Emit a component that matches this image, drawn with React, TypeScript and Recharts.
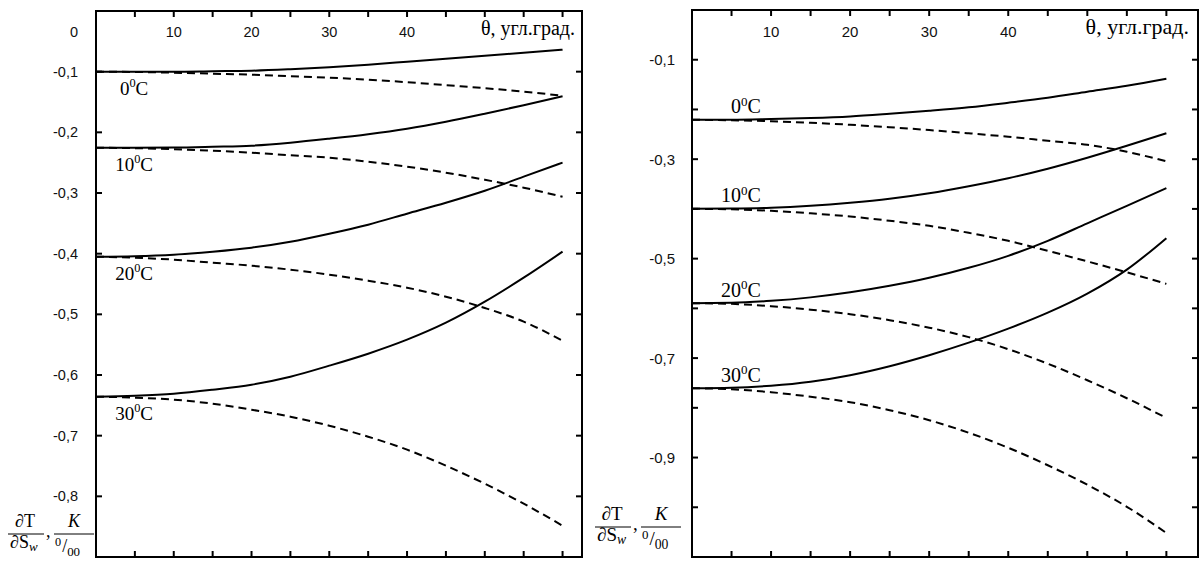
import React from 'react';
import { LineChart, Line, XAxis, YAxis, ReferenceArea, ReferenceDot } from 'recharts';

// ---------- data ----------
const theta = [0, 5, 10, 15, 20, 25, 30, 35, 40, 45, 50, 55, 60];

const leftSolid0 = [-0.1, -0.1, -0.1, -0.0992, -0.0984, -0.0959, -0.0926, -0.0885, -0.0836, -0.0786, -0.0737, -0.0687, -0.0638];
const leftDash0 = [-0.1, -0.1005, -0.1017, -0.1033, -0.105, -0.1075, -0.1099, -0.1132, -0.1174, -0.1223, -0.1272, -0.133, -0.1396];
const leftSolid10 = [-0.2253, -0.2253, -0.225, -0.2237, -0.222, -0.2171, -0.2105, -0.2031, -0.194, -0.1825, -0.1693, -0.1553, -0.1404];
const leftDash10 = [-0.2253, -0.2261, -0.2278, -0.2303, -0.2336, -0.2377, -0.2418, -0.2484, -0.2566, -0.2665, -0.2781, -0.2912, -0.3061];
const leftSolid20 = [-0.405, -0.4042, -0.4017, -0.3967, -0.3901, -0.3803, -0.3671, -0.3522, -0.3341, -0.316, -0.2962, -0.2731, -0.25];
const leftDash20 = [-0.405, -0.4066, -0.4099, -0.4149, -0.4198, -0.4264, -0.4346, -0.4445, -0.4561, -0.4709, -0.4895, -0.5121, -0.5434];
const leftSolid30 = [-0.6357, -0.6341, -0.6308, -0.6242, -0.616, -0.6028, -0.5846, -0.5649, -0.5418, -0.5138, -0.4792, -0.4396, -0.3967];
const leftDash30 = [-0.6357, -0.6374, -0.6407, -0.6473, -0.6572, -0.6687, -0.6836, -0.7017, -0.7231, -0.7495, -0.7792, -0.8121, -0.8484];

const rightSolid0 = [-0.2207, -0.2207, -0.2193, -0.2173, -0.2141, -0.2087, -0.2026, -0.1956, -0.1865, -0.1765, -0.1644, -0.1523, -0.1382];
const rightDash0 = [-0.2207, -0.2217, -0.2237, -0.2268, -0.2308, -0.2358, -0.2414, -0.2479, -0.2549, -0.263, -0.271, -0.2851, -0.3042];
const rightSolid10 = [-0.3998, -0.3994, -0.3978, -0.3938, -0.3877, -0.3797, -0.3686, -0.3545, -0.3384, -0.3193, -0.2972, -0.2731, -0.2479];
const rightDash10 = [-0.3998, -0.4008, -0.4038, -0.4089, -0.4153, -0.4239, -0.434, -0.4481, -0.4642, -0.4843, -0.5055, -0.5276, -0.5507];
const rightSolid20 = [-0.5895, -0.5889, -0.5849, -0.5779, -0.5678, -0.5547, -0.5386, -0.5185, -0.4944, -0.4642, -0.429, -0.3938, -0.3581];
const rightDash20 = [-0.5895, -0.5909, -0.5956, -0.6026, -0.6117, -0.6237, -0.6388, -0.6579, -0.6821, -0.7113, -0.7445, -0.7807, -0.8203];
const rightSolid30 = [-0.7606, -0.7596, -0.7555, -0.7475, -0.7344, -0.7163, -0.6942, -0.669, -0.6408, -0.6087, -0.5704, -0.5221, -0.4588];
const rightDash30 = [-0.7606, -0.7626, -0.7686, -0.7777, -0.7887, -0.8048, -0.8249, -0.8501, -0.8803, -0.9155, -0.9547, -0.999, -1.0517];

const temps = ['0', '10', '20', '30'];

const xTicks = [5, 10, 15, 20, 25, 30, 35, 40, 45, 50, 55, 60];
const xTickLabels = [10, 20, 30, 40];
const leftYTicks = [0, -0.1, -0.2, -0.3, -0.4, -0.5, -0.6, -0.7, -0.8];
const leftYLabels = [0, -0.1, -0.2, -0.3, -0.4, -0.5, -0.6, -0.7, -0.8];
const rightYTicks = [-0.1, -0.2, -0.3, -0.4, -0.5, -0.6, -0.7, -0.8, -0.9, -1.0];
const rightYLabels = [-0.1, -0.3, -0.5, -0.7, -0.9];
const xAxisTitle = 'θ, угл.град.';

const build = (s: number[][], d: number[][]) =>
  theta.map((t, i) => ({
    theta: t,
    s0: s[0][i], s1: s[1][i], s2: s[2][i], s3: s[3][i],
    d0: d[0][i], d1: d[1][i], d2: d[2][i], d3: d[3][i],
  }));

const leftData = build([leftSolid0, leftSolid10, leftSolid20, leftSolid30], [leftDash0, leftDash10, leftDash20, leftDash30]);
const rightData = build([rightSolid0, rightSolid10, rightSolid20, rightSolid30], [rightDash0, rightDash10, rightDash20, rightDash30]);

const SANS = 'Liberation Sans, Arial, sans-serif';
const SERIF = 'Liberation Serif, Times New Roman, serif';

const fmt = (v: number) => (Math.abs(v) < 1e-9 ? '0' : v.toFixed(1).replace('.', ','));
const has = (arr: number[], v: number) => arr.some((a) => Math.abs(a - v) < 1e-9);

const makeYTick = (plotW: number, gap: number, labels: number[], fs: number, zeroDy: number) => (props: any) => {
  const { x, y, payload } = props;
  const v = payload.value;
  const zero = Math.abs(v) < 1e-9;
  return (
    <g>
      {!zero && <path d={`M${x},${y}h6`} stroke="#000" strokeWidth={2} fill="none" />}
      {!zero && <path d={`M${x + plotW - 6},${y}h6`} stroke="#000" strokeWidth={2} fill="none" />}
      {has(labels, v) && (
        <text x={x - gap} y={zero ? y + zeroDy : y} textAnchor="end" dominantBaseline="central" fontFamily={SANS} fontSize={fs} fill="#111">
          {fmt(v)}
        </text>
      )}
    </g>
  );
};

const makeXTick = (plotH: number, labelDy: number, fs: number) => (props: any) => {
  const { x, y, payload } = props;
  const v = payload.value;
  return (
    <g>
      <path d={`M${x},${y}v6`} stroke="#000" strokeWidth={2} fill="none" />
      <path d={`M${x},${y + plotH - 6}v6`} stroke="#000" strokeWidth={2} fill="none" />
      {has(xTickLabels, v) && (
        <text x={x} y={y + labelDy} textAnchor="middle" dominantBaseline="central" fontFamily={SANS} fontSize={fs} fill="#111">
          {v}
        </text>
      )}
    </g>
  );
};

const CurveLabel = (props: any) => {
  const { viewBox, t, dy, anchor, fs } = props;
  const cx = viewBox.x + (viewBox.width || 0) / 2;
  const cy = viewBox.y + (viewBox.height || 0) / 2;
  return (
    <text x={cx} y={cy + dy} textAnchor={anchor} fontFamily={SERIF} fontSize={fs} fill="#000">
      <tspan>{t}</tspan>
      <tspan fontSize={fs * 0.65} dy={-fs * 0.38}>0</tspan>
      <tspan dy={fs * 0.38}>C</tspan>
    </text>
  );
};

type Cfg = {
  data: any[];
  width: number;
  height: number;
  margin: { top: number; right: number; bottom: number; left: number };
  yW: number;
  xMax: number;
  yMin: number;
  yTicks: number[];
  yLabels: number[];
  yGap: number;
  fs: number;
  labelTheta: number;
  labelAnchor: string;
  labelDy: number;
  labelFs: number;
  titleFs: number;
  titleEndX: number;
  starts: number[];
};

const Panel = ({ c }: { c: Cfg }) => {
  const plotW = c.width - c.margin.left - c.margin.right - c.yW;
  const plotH = c.height - c.margin.top - c.margin.bottom - 1;
  const plotTop = c.margin.top + 1;
  return (
    <LineChart width={c.width} height={c.height} data={c.data} margin={c.margin}>
      <ReferenceArea x1={0} x2={c.xMax} y1={c.yMin} y2={0} fill="none" fillOpacity={0} stroke="#000" strokeWidth={2} />
      <XAxis
        dataKey="theta"
        type="number"
        orientation="top"
        domain={[0, c.xMax]}
        ticks={xTicks}
        interval={0}
        height={1}
        tickSize={0}
        tickMargin={0}
        axisLine={false}
        tickLine={false}
        tick={makeXTick(plotH, 21, c.fs)}
      />
      <YAxis
        type="number"
        domain={[c.yMin, 0]}
        ticks={c.yTicks}
        interval={0}
        width={c.yW}
        tickSize={0}
        tickMargin={0}
        axisLine={false}
        tickLine={false}
        tick={makeYTick(plotW, c.yGap, c.yLabels, c.fs, 21)}
      />
      {[0, 1, 2, 3].map((k) => (
        <Line key={'d' + k} dataKey={'d' + k} type="monotone" stroke="#000" strokeWidth={2} strokeDasharray="8 5" dot={false} isAnimationActive={false} />
      ))}
      {[0, 1, 2, 3].map((k) => (
        <Line key={'s' + k} dataKey={'s' + k} type="monotone" stroke="#000" strokeWidth={2} dot={false} isAnimationActive={false} />
      ))}
      {temps.map((t, k) => (
        <ReferenceDot
          key={'l' + t}
          x={c.labelTheta}
          y={c.starts[k]}
          r={1}
          fill="none"
          stroke="none"
          label={<CurveLabel t={t} dy={c.labelDy} anchor={c.labelAnchor} fs={c.labelFs} />}
        />
      ))}
      <text x={c.titleEndX} y={plotTop + 24} textAnchor="end" fontFamily={SERIF} fontSize={c.titleFs} fill="#000">
        {xAxisTitle}
      </text>
    </LineChart>
  );
};

const leftCfg: Cfg = {
  data: leftData,
  width: 600,
  height: 562,
  margin: { top: 10, right: 18, bottom: 5, left: 0 },
  yW: 96,
  xMax: 62.5,
  yMin: -0.9,
  yTicks: leftYTicks,
  yLabels: leftYLabels,
  yGap: 18,
  fs: 14.5,
  labelTheta: 4.9,
  labelAnchor: 'middle',
  labelDy: 23,
  labelFs: 19,
  titleFs: 20,
  titleEndX: 575,
  starts: [leftSolid0[0], leftSolid10[0], leftSolid20[0], leftSolid30[0]],
};

const rightCfg: Cfg = {
  data: rightData,
  width: 601,
  height: 562,
  margin: { top: 9, right: 3, bottom: 5, left: 0 },
  yW: 92,
  xMax: 64,
  yMin: -1.1,
  yTicks: rightYTicks,
  yLabels: rightYLabels,
  yGap: 17,
  fs: 15,
  labelTheta: 8.7,
  labelAnchor: 'end',
  labelDy: -6.5,
  labelFs: 20,
  titleFs: 22,
  titleEndX: 589,
  starts: [rightSolid0[0], rightSolid10[0], rightSolid20[0], rightSolid30[0]],
};

const Fraction = ({ x0, top, fs }: { x0: number; top: number; fs: number }) => (
  <g fontFamily={SERIF} fill="#000">
    <text x={x0 + 17} y={top} textAnchor="middle" fontSize={fs}>∂T</text>
    <line x1={x0} x2={x0 + 36} y1={top + 7} y2={top + 7} stroke="#000" strokeWidth={1} />
    <text x={x0 + 2} y={top + 21} fontSize={fs}>
      ∂S<tspan fontSize={fs * 0.72} fontStyle="italic" dy={3}>w</tspan>
    </text>
    <text x={x0 + 38} y={top + 10} fontSize={fs}>,</text>
    <text x={x0 + 66} y={top} textAnchor="middle" fontSize={fs} fontStyle="italic">K</text>
    <line x1={x0 + 46} x2={x0 + 86} y1={top + 7} y2={top + 7} stroke="#000" strokeWidth={1} />
    <text x={x0 + 47} y={top + 19} fontSize={fs * 0.68}>
      0<tspan fontSize={fs} dy={6} dx={1}>/</tspan><tspan fontSize={fs * 0.72} dy={4}>00</tspan>
    </text>
  </g>
);

export default function App() {
  return (
    <div style={{ position: 'absolute', left: 0, top: 0, width: 1201, height: 562, background: '#fff', overflow: 'hidden' }}>
      <div style={{ position: 'absolute', left: 0, top: 0 }}>
        <Panel c={leftCfg} />
      </div>
      <div style={{ position: 'absolute', left: 600, top: 0 }}>
        <Panel c={rightCfg} />
      </div>
      <svg width={1201} height={562} style={{ position: 'absolute', left: 0, top: 0, pointerEvents: 'none' }}>
        <Fraction x0={8} top={527} fs={18} />
        <Fraction x0={595} top={520} fs={19} />
      </svg>
    </div>
  );
}
